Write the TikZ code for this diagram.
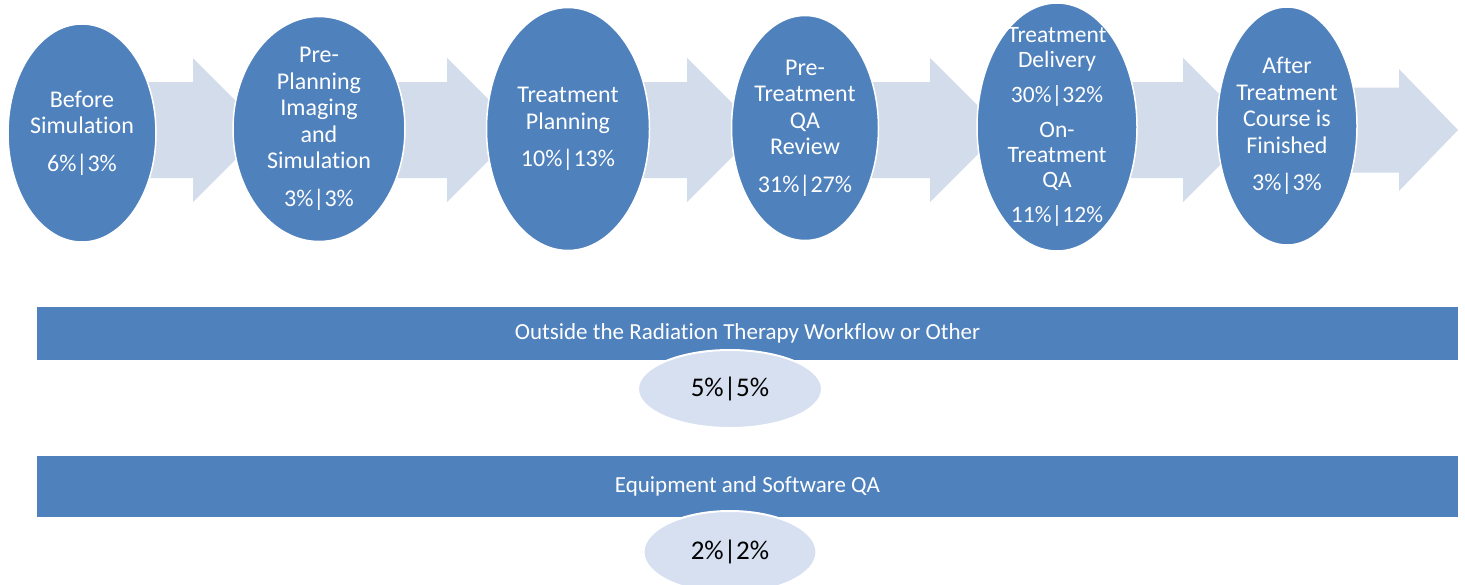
\documentclass[tikz,border=0pt]{standalone}
\usepackage{fontspec}
\setmainfont{Carlito}[Ligatures={NoCommon}]
\usepackage{xcolor}
\usepackage{tikz}
\definecolor{wfblue} {RGB} {79, 129, 189}
\definecolor{wfpale} {RGB} {211, 220, 235}
\definecolor{wflight} {RGB} {214, 224, 241}
\usetikzlibrary{shapes.geometric}
\usetikzlibrary{calc,backgrounds}
\tikzstyle{wf}=[
  x=1pt, y=-1pt, font=\fontsize{24}{26.5}\selectfont
]
\tikzstyle{wfstep}=[
  ellipse, fill=wfblue, draw=white, line width=1.5pt, inner sep=-30pt,
  text=white, align=center
]
\tikzstyle{wfbar}=[
  rectangle, fill=wfblue, inner sep=0pt, text=white,
  font=\fontsize{23}{27}\selectfont
]
\tikzstyle{wfpct}=[
  ellipse, fill=wflight, draw=white, line width=2pt, inner sep=0pt,
  text=black, font=\fontsize{27}{32}\selectfont
]
\tikzstyle{wfarrow}=[
    fill=wfpale
]
\begin{document}
\begin{tikzpicture}[wf]
    \useasboundingbox (0,0) rectangle (1465,584);

    \node (before) [wfstep, minimum width=148, minimum height=218] at (82,133) {
        Before\\Simulation\\[11pt]6\%|3\%
    };
    \node (preplan) [wfstep, minimum width=172, minimum height=225] at (319,129) {
        Pre-\\Planning\\Imaging\\and\\Simulation\\[11pt]3\%|3\%
    };
    \node (planning) [wfstep, minimum width=163, minimum height=243] at (568,129) {
        Treatment\\Planning\\[11pt]10\%|13\%
    };
    \node (preqa) [wfstep, minimum width=147, minimum height=225] at (805,128) {
        Pre-\\Treatment\\QA\\Review\\[11pt]31\%|27\%
    };
    \node (delivery) [wfstep, minimum width=160, minimum height=248,
        font=\fontsize{23.5}{25.3}\selectfont] at (1057,127) {
        Treatment\\Delivery\\[9.5pt]30\%|32\%\\[9.5pt]On-\\Treatment\\QA\\[9.5pt]11\%|12\%
    };
    \node (after) [wfstep, minimum width=140, minimum height=238] at (1287,126) {
        After\\Treatment\\Course is\\Finished\\[11pt]3\%|3\%
    };

    \begin{scope}[on background layer]
        \foreach \hx in {193, 447, 687, 930, 1183} {
            \fill [wfarrow] (\hx,130) ++(-115,-48) -- ++(115,0) -- ++(0,-24)
                -- ++(72,72) -- ++(-72,72) -- ++(0,-24) -- ++(-115,0) -- cycle;
        }
        \fill [wfarrow] (1399,130) ++(-115,-42.5) -- ++(115,0) -- ++(0,-18.5)
            -- ++(59,61) -- ++(-59,61) -- ++(0,-18.5) -- ++(-115,0) -- cycle;
    \end{scope}

    \node (outside) [wfbar, minimum width=1421, minimum height=53] at (747.5,333.5) {
        Outside the Radiation Therapy Workflow or Other
    };
    \node (outpct) [wfpct, minimum width=184, minimum height=78] at (730,389) {5\%|5\%};

    \node (equip) [wfbar, minimum width=1421, minimum height=61] at (747.5,486.5) {
        Equipment and Software QA
    };
    \node (equippct) [wfpct, minimum width=173, minimum height=82] at (730,552) {2\%|2\%};
\end{tikzpicture}
\end{document}
